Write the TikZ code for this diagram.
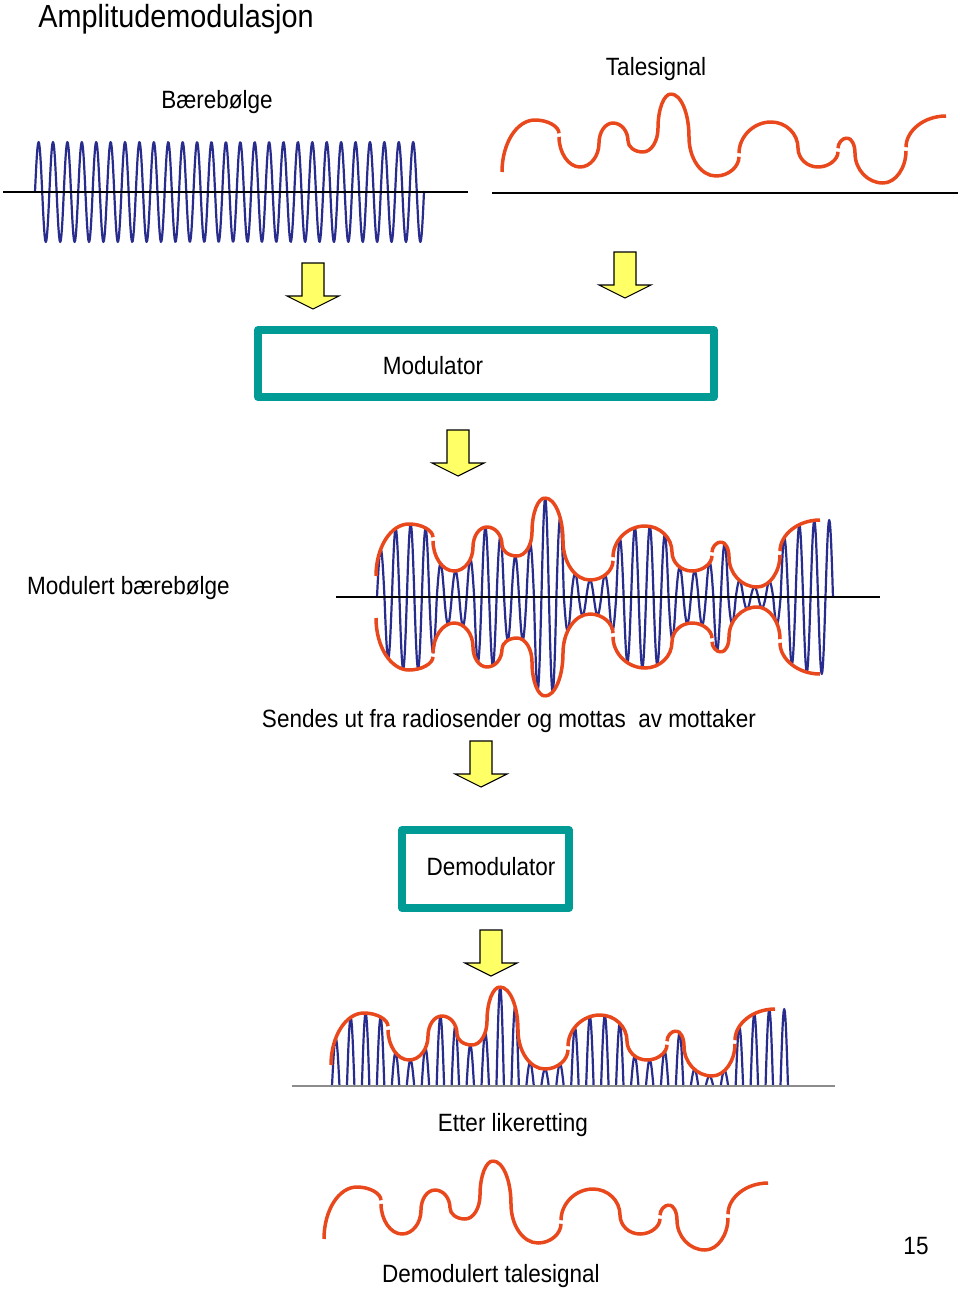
\documentclass[tikz,border=0pt]{standalone}
\usepackage{fontspec}
\setmainfont{Liberation Sans}[FakeStretch=0.9]
\definecolor{carrier}{RGB}{40,44,140}
\definecolor{speech}{RGB}{233,72,28}
\definecolor{boxteal}{RGB}{0,155,148}
\definecolor{arrowyellow}{RGB}{255,255,102}
\definecolor{greyaxis}{RGB}{140,140,140}
% speech curve made of quarter ellipses: #1 x0, #2 y0 (baseline), #3 sign
\newcommand\drawspeech[3]{%
  \foreach \ua/\ha/\ub/\hb/\ty/\sa/\sb in {0/21/33/73/0/0/0,33/73/57/58/1/0/1.8,
      57/58/78/26/0/1.8/0,78/26/97/50/1/0/0,97/50/111/70/0/0/0,111/70/126/52/1/0/0,
      126/52/141/41/0/0/0,141/41/156/65/1/0/0,156/65/169/99/0/0/0,169/99/187/56/1/0/0,
      187/56/214/17/0/0/0,214/17/237/38/1/0/1.8,237/38/269/71/0/1.8/0,269/71/296/45/1/0/0,
      296/45/316/26/0/0/0,316/26/336/43/1/0/1.8,336/43/345/55/0/1.8/0,345/55/353/40/1/0/0,
      353/40/381/10/0/0/0,381/10/404/44/1/0/1.8,404/44/444/77/0/1.8/0}{%
    \draw[speechline,shorten <=\sa pt,shorten >=\sb pt]
      ({#1+\ua},{#2-(#3)*(\ha)})
      .. controls ({#1+\ua+\ty*0.5523*(\ub-\ua)},{#2-(#3)*(\ha+(1-\ty)*0.5523*(\hb-\ha))})
      and ({#1+\ub-(1-\ty)*0.5523*(\ub-\ua)},{#2-(#3)*(\hb-\ty*0.5523*(\hb-\ha))})
      .. ({#1+\ub},{#2-(#3)*(\hb)});
  }}
\newcommand\yellowarrow[2]{%
  \draw[yarrow] (#1-11,#2) -- (#1+11,#2) -- (#1+11,#2+33) -- (#1+26,#2+33)
     -- (#1,#2+46) -- (#1-26,#2+33) -- (#1-11,#2+33) -- cycle;}
\begin{document}
\begin{tikzpicture}[x=1pt,y=-1pt,line join=round,
  declare function={
    qe(\vu,\ja,\jh,\ea,\eh)=(1-(\vu<min(\ja,\ea)))*(\vu<max(\ja,\ea))*((\jh)+((\eh)-(\jh))*sqrt(max(0,1-((\vu-(\ea))/((\ja)-(\ea)))^2)));
    env(\vu)=qe(\vu,0,21,33,73)+qe(\vu,57,58,33,73)+qe(\vu,57,58,78,26)+qe(\vu,97,50,78,26)
      +qe(\vu,97,50,111,70)+qe(\vu,126,52,111,70)+qe(\vu,126,52,141,41)+qe(\vu,156,65,141,41)
      +qe(\vu,156,65,169,99)+qe(\vu,187,56,169,99)+qe(\vu,187,56,214,17)+qe(\vu,237,38,214,17)
      +qe(\vu,237,38,269,71)+qe(\vu,296,45,269,71)+qe(\vu,296,45,316,26)+qe(\vu,336,43,316,26)
      +qe(\vu,336,43,345,55)+qe(\vu,353,40,345,55)+qe(\vu,353,40,381,10)+qe(\vu,404,44,381,10)
      +qe(\vu,404,44,444,77)+qe(\vu,500,77,444,77);
  },
  carrierline/.style={draw=carrier,line width=2.2pt,line cap=round},
  speechline/.style={draw=speech,line width=3.5pt},
  axisline/.style={draw=black,line width=2.5pt},
  boxframe/.style={draw=boxteal,line width=8pt,fill=white,inner sep=0pt},
  yarrow/.style={draw=black,line width=1.1pt,fill=arrowyellow,line join=miter},
  lbl/.style={font=\fontsize{25}{30}\selectfont,inner sep=0pt,anchor=base},
  titlelbl/.style={font=\fontsize{32}{36}\selectfont,inner sep=0pt,anchor=base},
]
\useasboundingbox (0,0) rectangle (960,1291);
\fill[white] (0,0) rectangle (960,1291);

% title and labels
\node[titlelbl] (title) at (176,27) {Amplitudemodulasjon};
\node[lbl] (carrierlbl) at (217,108) {Bærebølge};
\node[lbl] (speechlbl) at (656,75) {Talesignal};

% carrier wave
\draw[carrierline] plot[domain=35:424,samples=650] (\x,{192-50*sin((\x-35)*24.9879)});
\coordinate (cl) at (3,192); \coordinate (cr) at (468,192);
\draw[axisline] (cl) -- (cr);

% speech signal
\coordinate (sl) at (492,193); \coordinate (sr) at (958,193);
\draw[axisline] (sl) -- (sr);
\drawspeech{502}{193}{1}

% arrows into modulator
\yellowarrow{313}{263}
\yellowarrow{625}{252}

% modulator
\node[boxframe,minimum width=456pt,minimum height=67pt] (modbox) at (486,363.5) {};
\node[lbl] (modlbl) at (433,374) {Modulator};

\yellowarrow{458}{430}

% modulated wave
\node[lbl] (modwavelbl) at (128.5,594) {Modulert bærebølge};
\foreach \k in {0,...,60}{
  \pgfmathsetmacro\xs{377+\k*7.475}
  \pgfmathsetmacro\xe{\xs+7.475}
  \pgfmathsetmacro\amp{env(\xs+3.7375-376)}
  \draw[carrierline] plot[domain=\xs:\xe,samples=13] (\x,{597-\amp*sin((\x-377)*24.0803)});
}
\coordinate (ml) at (336,597); \coordinate (mr) at (880,597);
\draw[axisline] (ml) -- (mr);
\drawspeech{376}{597}{1}
\drawspeech{376}{597}{-1}

\node[lbl] (sendlbl) at (509,727) {Sendes ut fra radiosender og mottas~~av mottaker};
\yellowarrow{481}{741}

% demodulator
\node[boxframe,minimum width=167pt,minimum height=78pt] (demodbox) at (485.5,869) {};
\node[lbl] (demodlbl) at (491,875) {Demodulator};

\yellowarrow{491}{930}

% rectified wave
\foreach \k in {0,2,...,60}{
  \pgfmathsetmacro\xs{332+\k*7.475}
  \pgfmathsetmacro\xe{\xs+7.475}
  \pgfmathsetmacro\amp{env(\xs+3.7375-331)}
  \draw[carrierline] plot[domain=\xs:\xe,samples=13] (\x,{1086-\amp*sin((\x-332)*24.0803)});
}
\coordinate (rl) at (292,1086); \coordinate (rr) at (835,1086);
\draw[draw=greyaxis,line width=1.6pt] (rl) -- (rr);
\drawspeech{331}{1086}{1}
\node[lbl] (rectlbl) at (513,1131) {Etter likeretting};

% demodulated speech
\drawspeech{324}{1260}{1}
\node[lbl] (demodsiglbl) at (491,1282) {Demodulert talesignal};
\node[lbl] (pagenum) at (916,1254) {15};
\end{tikzpicture}
\end{document}
